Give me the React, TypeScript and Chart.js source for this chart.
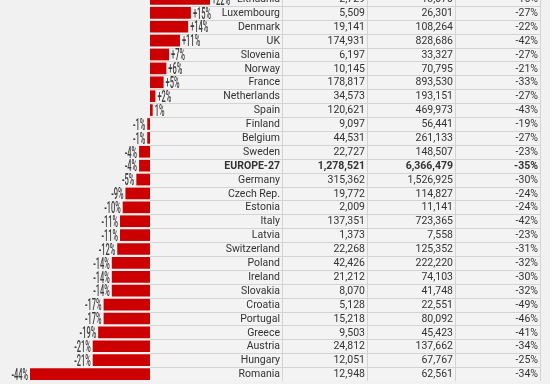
import React, { useEffect, useRef } from "react";
import { Chart, registerables } from "chart.js";

Chart.register(...registerables);

const countries = [
  "Lithuania", "Luxembourg", "Denmark", "UK", "Slovenia", "Norway", "France", "Netherlands",
  "Spain", "Finland", "Belgium", "Sweden", "EUROPE-27", "Germany", "Czech Rep.", "Estonia",
  "Italy", "Latvia", "Switzerland", "Poland", "Ireland", "Slovakia", "Croatia", "Portugal",
  "Greece", "Austria", "Hungary", "Romania",
];
const change = [22, 15, 14, 11, 7, 6, 5, 2, 1, -1, -1, -4, -4, -5, -9, -10, -11, -11, -12, -14, -14, -14, -17, -17, -19, -21, -21, -44];
const changeText = ["+22%", "+15%", "+14%", "+11%", "+7%", "+6%", "+5%", "+2%", "1%", "-1%", "-1%", "-4%", "-4%", "-5%", "-9%", "-10%", "-11%", "-11%", "-12%", "-14%", "-14%", "-14%", "-17%", "-17%", "-19%", "-21%", "-21%", "-44%"];
const valueA = [2729, 5509, 19141, 174931, 6197, 10145, 178817, 34573, 120621, 9097, 44531, 22727, 1278521, 315362, 19772, 2009, 137351, 1373, 22268, 42426, 21212, 8070, 5128, 15218, 9503, 24812, 12051, 12948];
const valueB = [13070, 26301, 108264, 828686, 33327, 70795, 893530, 193151, 469973, 56441, 261133, 148507, 6366479, 1526925, 114827, 11141, 723365, 7558, 125352, 222220, 74103, 41748, 22551, 80092, 45423, 137662, 67767, 62561];
const shareC = [-16, -27, -22, -42, -27, -21, -33, -27, -43, -19, -27, -23, -35, -30, -24, -24, -42, -23, -31, -32, -30, -32, -49, -46, -41, -34, -25, -34];
const boldRow = "EUROPE-27";

const BG = "#f1f1f1";
const RED = "#cc0000";
const LINE = "#d3d3d3";
const TEXT = "#333333";
const COLS = [282, 367, 455, 540];

const fmt = (n: number) => n.toLocaleString("en-US");

const tablePlugin = {
  id: "tablePlugin",
  beforeDatasetsDraw(chart: any) {
    const { ctx } = chart;
    const y = chart.scales.y;
    const x = chart.scales.x;
    const n = countries.length;
    const rowH = (y.bottom - y.top) / n;
    const left = x.getPixelForValue(0);
    ctx.save();
    ctx.fillStyle = "#f3f3f3";
    ctx.fillRect(left, y.top, COLS[3] - left, y.bottom - y.top);
    ctx.strokeStyle = LINE;
    ctx.lineWidth = 1;
    for (let i = 0; i <= n; i++) {
      const yy = Math.round(y.getPixelForValue(0) - rowH / 2 + i * rowH) + 0.5;
      ctx.beginPath();
      ctx.moveTo(left, yy);
      ctx.lineTo(COLS[3] + 1, yy);
      ctx.stroke();
    }
    for (const cx of COLS) {
      ctx.beginPath();
      ctx.moveTo(cx + 0.5, y.top);
      ctx.lineTo(cx + 0.5, y.bottom);
      ctx.stroke();
    }
    ctx.restore();
  },
  afterDatasetsDraw(chart: any) {
    const { ctx } = chart;
    const y = chart.scales.y;
    const meta = chart.getDatasetMeta(0);
    ctx.save();
    ctx.textBaseline = "middle";
    countries.forEach((c, i) => {
      const yy = y.getPixelForValue(i) + 0.5;
      const bold = c === boldRow;
      ctx.fillStyle = TEXT;
      ctx.font = `${bold ? "bold " : ""}10.5px Roboto`;
      ctx.textAlign = "right";
      ctx.fillText(c, COLS[0] - 2, yy);
      ctx.fillText(fmt(valueA[i]), COLS[1] - 2, yy);
      ctx.fillText(fmt(valueB[i]), COLS[2] - 2, yy);
      ctx.fillText(shareC[i] + "%", COLS[3] - 2, yy);
    });
    // bar labels (condensed)
    ctx.fillStyle = "#3c3c3c";
    ctx.font = "500 17px Roboto";
    meta.data.forEach((el: any, i: number) => {
      const v = change[i];
      ctx.save();
      if (v >= 0) {
        ctx.translate(el.x + 2, el.y + 1.5);
        ctx.textAlign = "left";
      } else {
        ctx.translate(el.x - 2, el.y + 1.5);
        ctx.textAlign = "right";
      }
      ctx.scale(0.44, 1);
      ctx.fillText(changeText[i], 0, 0);
      ctx.restore();
    });
    ctx.restore();
  },
};

export default function App() {
  const ref = useRef<HTMLCanvasElement | null>(null);
  useEffect(() => {
    if (!ref.current) return;
    const chart = new Chart(ref.current, {
      type: "bar",
      data: {
        labels: countries,
        datasets: [
          {
            data: change,
            backgroundColor: RED,
            borderWidth: 0,
            categoryPercentage: 1,
            barPercentage: 0.84,
          },
        ],
      },
      options: {
        indexAxis: "y",
        animation: false,
        responsive: false,
        maintainAspectRatio: false,
        layout: { padding: 0 },
        plugins: { legend: { display: false }, tooltip: { enabled: false } },
        scales: {
          x: { type: "linear", min: -55, max: 146.7, display: false },
          y: { type: "category", display: false, offset: true },
        },
      },
      plugins: [tablePlugin],
    });
    return () => chart.destroy();
  }, []);
  return (
    <div style={{ position: "fixed", left: 0, top: 0, width: 550, height: 384, overflow: "hidden", background: BG }}>
      <canvas ref={ref} width={550} height={389} style={{ position: "absolute", left: 0, top: -8, width: 550, height: 389 }} />
    </div>
  );
}
